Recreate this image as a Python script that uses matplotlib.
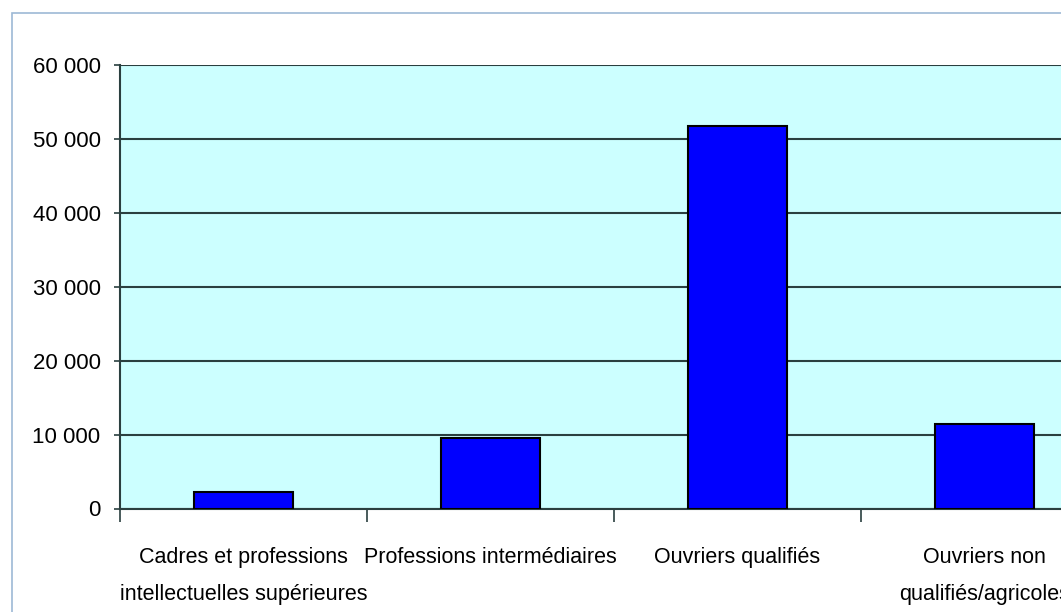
import matplotlib
matplotlib.use("Agg")
import matplotlib.pyplot as plt
from matplotlib.patches import Rectangle
from matplotlib.ticker import FuncFormatter, FixedLocator

categories = ["Cadres et professions\nintellectuelles supérieures",
              "Professions intermédiaires",
              "Ouvriers qualifiés",
              "Ouvriers non\nqualifiés/agricoles"]
values = [2200, 9500, 51700, 11400]
y_ticks = [0, 10000, 20000, 30000, 40000, 50000, 60000]

plt.rcParams['font.family'] = ['Liberation Sans', 'DejaVu Sans']

fig = plt.figure(figsize=(10.61, 6.12), dpi=100)
fig.patches.append(Rectangle((12 / 1061, -0.1), 1.2, 1 - 13 / 612 + 0.1,
                             transform=fig.transFigure, fill=False,
                             edgecolor="#9db9d6", linewidth=1.2))

ax = fig.add_axes([120 / 1061, (612 - 508.5) / 612, 988 / 1061, 443.5 / 612])
ax.set_facecolor("#ccffff")
x = list(range(len(values)))
ax.bar(x, values, width=0.4, color="#0000ff", edgecolor="black", linewidth=1.5, zorder=3)

ax.set_xlim(-0.5, 3.5)
ax.set_ylim(0, 60000)
ax.set_yticks(y_ticks)
ax.yaxis.set_major_formatter(FuncFormatter(lambda v, p: f"{v:,.0f}".replace(",", " ")))
ax.grid(axis="y", color="#2a3f3f", linewidth=1.5, zorder=1)
ax.set_axisbelow(True)

ax.set_xticks(x)
ax.set_xticklabels(categories, fontsize=15.5, linespacing=2.0)
ax.tick_params(axis="x", which="major", length=0, pad=28)
ax.xaxis.set_minor_locator(FixedLocator([-0.5, 0.5, 1.5, 2.5, 3.5]))
ax.tick_params(axis="x", which="minor", length=9, width=1.2, color="#2a3f3f")
ax.tick_params(axis="y", labelsize=16, length=4, width=1.2, color="#2a3f3f", pad=10)

for s in ["top", "right"]:
    ax.spines[s].set_visible(False)
for s in ["left", "bottom"]:
    ax.spines[s].set_color("#2a3f3f")
    ax.spines[s].set_linewidth(1.5)

fig.savefig("out.png", dpi=100)
